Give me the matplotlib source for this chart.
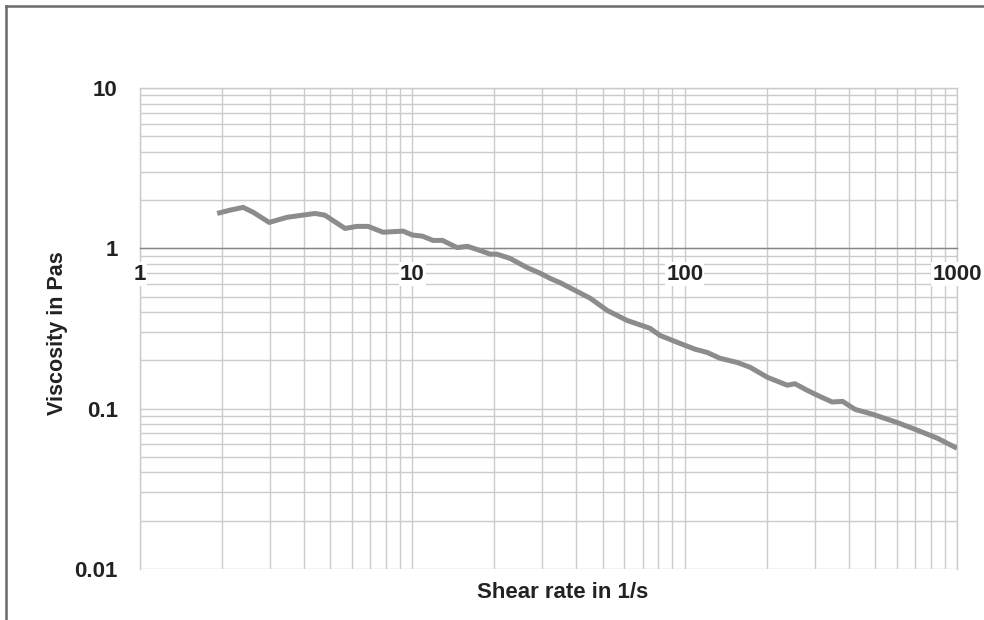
import matplotlib
matplotlib.use('Agg')
import matplotlib.pyplot as plt
from matplotlib.lines import Line2D
from matplotlib.ticker import LogLocator, FixedFormatter, FixedLocator, NullFormatter

# shear rate (1/s) and viscosity (Pa s)
shear_rate = [1.92, 2.14, 2.39, 2.60, 2.98, 3.46, 4.39, 4.77, 5.66, 6.25, 6.88,
              7.8, 9.25, 10.0, 10.9, 11.9, 12.9, 14.6, 15.9, 17.7, 19.3, 20.4,
              22.8, 26.3, 29.4, 32.0, 34.9, 45.0, 51.9, 61.4, 74.6, 81.2, 96.2,
              109, 121, 135, 156, 174, 201, 238, 254, 282, 314, 348, 380, 422,
              492, 602, 713, 845, 1000]
viscosity = [1.65, 1.73, 1.80, 1.68, 1.45, 1.56, 1.65, 1.61, 1.33, 1.37, 1.37,
             1.26, 1.28, 1.21, 1.19, 1.12, 1.12, 1.01, 1.03, 0.97, 0.92, 0.92,
             0.866, 0.76, 0.70, 0.65, 0.61, 0.488, 0.41, 0.355, 0.317, 0.286,
             0.255, 0.235, 0.224, 0.206, 0.194, 0.181, 0.157, 0.14, 0.143,
             0.13, 0.119, 0.11, 0.111, 0.099, 0.092, 0.082, 0.0735, 0.0655,
             0.0566]

x_ticks = [1, 10, 100, 1000]
x_labels = ['1', '10', '100', '1000']
y_ticks = [0.01, 0.1, 1, 10]
y_labels = ['0.01', '0.1', '1', '10']

FONT = 'Liberation Sans'
TEXT = '#222222'
GRID = '#cbcbcb'
TICK_SIZE = 16

fig = plt.figure(figsize=(9.84, 6.2), dpi=100, facecolor='white')
ax = fig.add_axes([0.1423, 0.0823, 0.8303, 0.7758])

ax.set_xscale('log')
ax.set_yscale('log')
ax.set_xlim(1, 1000)
ax.set_ylim(0.01, 10)

ax.plot(shear_rate, viscosity, color='#8c8c8c', lw=3.6,
        solid_capstyle='butt', solid_joinstyle='round', zorder=3)

# grid, major and minor, in Excel style
ax.xaxis.set_major_locator(FixedLocator(x_ticks))
ax.xaxis.set_major_formatter(NullFormatter())
ax.yaxis.set_major_locator(FixedLocator(y_ticks))
ax.yaxis.set_major_formatter(FixedFormatter(y_labels))
ax.xaxis.set_minor_locator(LogLocator(base=10, subs=range(2, 10)))
ax.yaxis.set_minor_locator(LogLocator(base=10, subs=range(2, 10)))
ax.xaxis.set_minor_formatter(NullFormatter())
ax.yaxis.set_minor_formatter(NullFormatter())
ax.grid(True, which='both', color=GRID, lw=1.0, zorder=0)
ax.set_axisbelow(True)

# horizontal axis crosses at viscosity = 1
for side in ('top', 'right', 'left'):
    ax.spines[side].set_color(GRID)
    ax.spines[side].set_linewidth(1.0)
ax.spines['bottom'].set_position(('data', 1))
ax.spines['bottom'].set_color('#868686')
ax.spines['bottom'].set_linewidth(1.0)

ax.tick_params(which='both', length=0)
ax.tick_params(axis='y', pad=16)
for lab in ax.get_yticklabels():
    lab.set_fontfamily(FONT)
    lab.set_fontweight('bold')
    lab.set_fontsize(TICK_SIZE)
    lab.set_color(TEXT)

# x labels sit just under the y = 1 axis line, on a white patch
for t, s in zip(x_ticks, x_labels):
    ax.annotate(s, xy=(t, 1), xytext=(0, -11), textcoords='offset points',
                ha='center', va='top', fontsize=TICK_SIZE, fontweight='bold',
                fontfamily=FONT, color=TEXT, zorder=5, annotation_clip=False,
                bbox=dict(boxstyle='square,pad=0.05', facecolor='white',
                          edgecolor='none'))

fig.text(0.572, 1 - 592 / 620, 'Shear rate in 1/s', ha='center', va='center',
         fontsize=16, fontweight='bold', fontfamily=FONT, color=TEXT)
fig.text(58 / 984, 1 - 333 / 620, 'Viscosity in Pas', ha='center', va='center',
         rotation=90, fontsize=15.5, fontweight='bold', fontfamily=FONT,
         color=TEXT)

# outer frame, only left and top edges show
fig.add_artist(Line2D([6 / 984, 6 / 984], [0, 1 - 6 / 620],
                      transform=fig.transFigure, color='#6a6a6a', lw=1.8))
fig.add_artist(Line2D([6 / 984, 1], [1 - 6 / 620, 1 - 6 / 620],
                      transform=fig.transFigure, color='#6a6a6a', lw=1.8))

fig.savefig('out.png', dpi=100, facecolor='white')
